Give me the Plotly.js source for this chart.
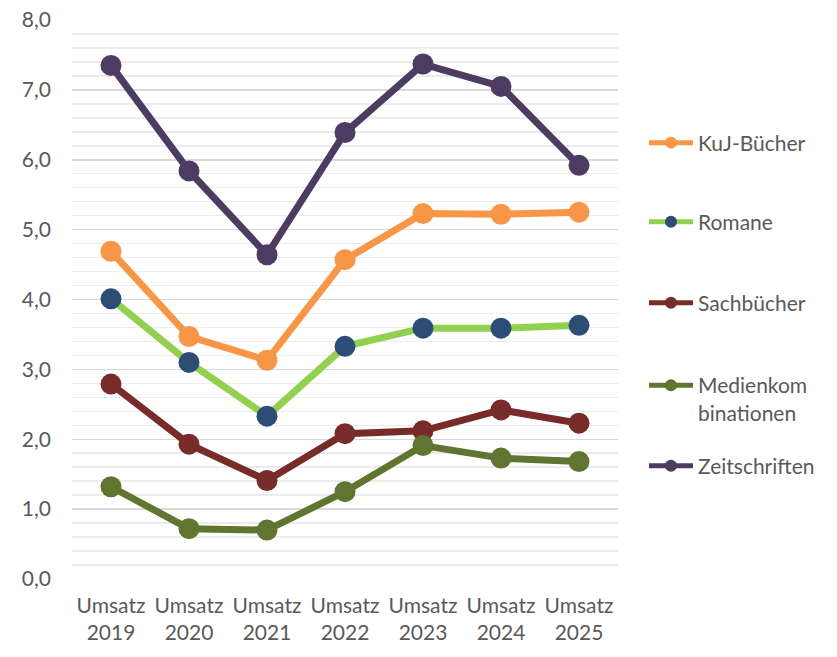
<!DOCTYPE html>
<html><head><meta charset="utf-8">
<script src="https://cdn.plot.ly/plotly-3.0.1.min.js"></script>
<style>html,body{margin:0;padding:0;background:#fff}#c{width:837px;height:657px}</style>
</head><body><div id="c"></div>
<script>
const categories = ["Umsatz<br>2019","Umsatz<br>2020","Umsatz<br>2021","Umsatz<br>2022","Umsatz<br>2023","Umsatz<br>2024","Umsatz<br>2025"];
const seriesNames = ["KuJ-Bücher","Romane","Sachbücher","Medienkom<br>binationen","Zeitschriften"];
const kujBuecher = [4.69, 3.47, 3.13, 4.57, 5.23, 5.22, 5.25];
const romane = [4.01, 3.10, 2.33, 3.33, 3.59, 3.59, 3.63];
const sachbuecher = [2.79, 1.93, 1.41, 2.08, 2.12, 2.42, 2.23];
const medienkombinationen = [1.32, 0.72, 0.70, 1.25, 1.91, 1.73, 1.68];
const zeitschriften = [7.35, 5.84, 4.64, 6.39, 7.37, 7.05, 5.92];

const fam = 'Lato, "Open Sans", sans-serif';
const font = {family:fam, color:'#595959', size:21};

function tr(name, y, lineColor, markerColor, leg){
  return {type:'scatter', mode:'lines+markers', name:name, x:categories, y:y, legend:leg,
    line:{color:lineColor, width:7}, marker:{color:markerColor, size:21}, hoverinfo:'skip'};
}
const data = [
  tr(seriesNames[0], kujBuecher, '#F79646', '#F79646', 'legend'),
  tr(seriesNames[1], romane, '#92D050', '#2C4D75', 'legend2'),
  tr(seriesNames[2], sachbuecher, '#772C2A', '#772C2A', 'legend3'),
  tr(seriesNames[3], medienkombinationen, '#5F7530', '#5F7530', 'legend4'),
  tr(seriesNames[4], zeitschriften, '#4D3B62', '#4D3B62', 'legend5')
];
function leg(y){
  return {x:1.0476, xanchor:'left', y:y, yanchor:'middle', valign:'top', itemsizing:'constant',
    itemwidth:44, font:font, bgcolor:'rgba(0,0,0,0)'};
}
const layout = {
  width:837, height:657, paper_bgcolor:'#fff', plot_bgcolor:'#fff',
  margin:{l:72, r:219, t:20, b:78},
  font:font, separators:',.',
  showlegend:true,
  legend:leg(0.780), legend2:leg(0.6386), legend3:leg(0.4937), legend4:leg(0.322), legend5:leg(0.2021),
  xaxis:{type:'category', range:[-0.5,6.5], showgrid:false, zeroline:false, showline:false,
    ticks:'', tickfont:font, ticklabelstandoff:12, fixedrange:true},
  yaxis:{range:[0,8], dtick:1, tickformat:'.1f', showgrid:true, gridcolor:'#d9d9d9', gridwidth:1.5,
    zeroline:false, showline:false, ticks:'', tickfont:font, ticklabelstandoff:20,
    minor:{dtick:0.2, showgrid:true, gridcolor:'#ececec', gridwidth:1.5}}
};
Plotly.newPlot('c', data, layout, {displayModeBar:false, staticPlot:true});
</script></body></html>
